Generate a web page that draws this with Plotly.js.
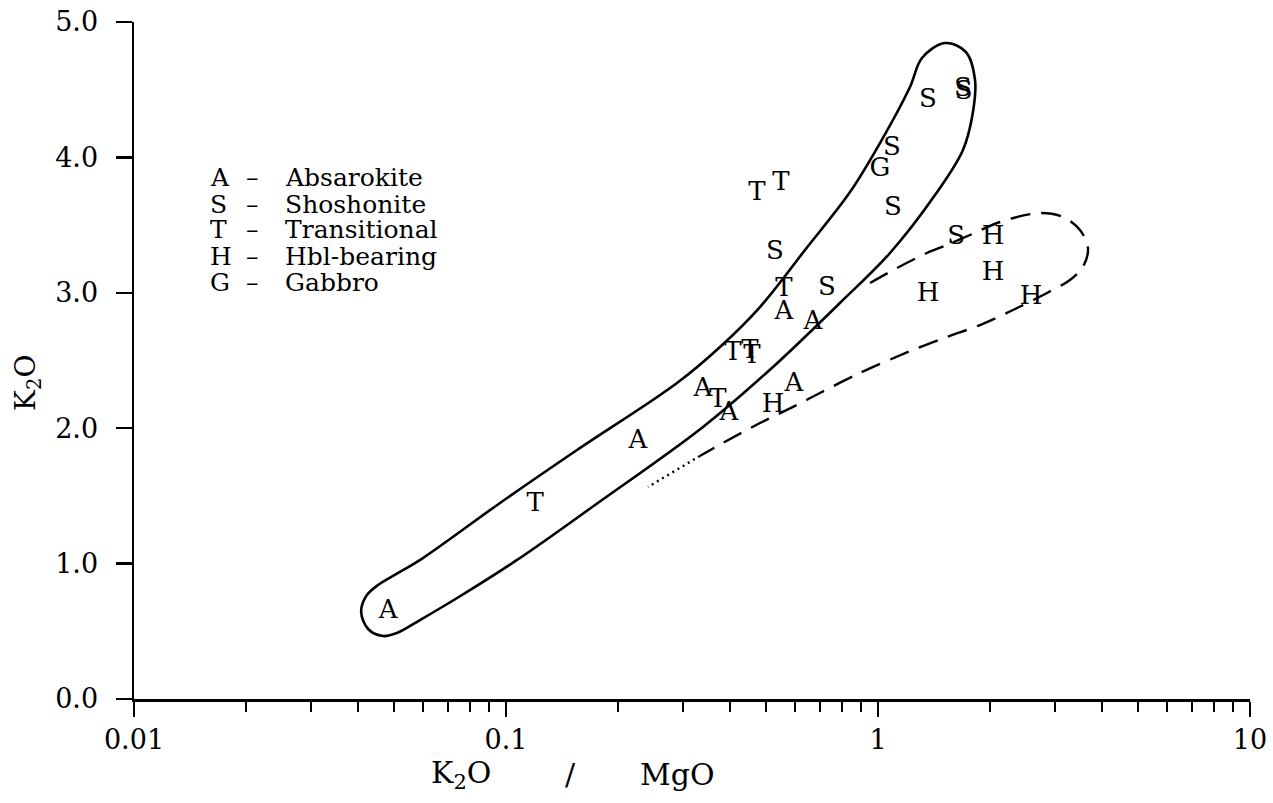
<!DOCTYPE html>
<html>
<head>
<meta charset="utf-8">
<script src="https://cdn.plot.ly/plotly-3.0.1.min.js"></script>
<style>html,body{margin:0;padding:0;background:#fff;}#chart{width:1273px;height:803px;}</style>
</head>
<body>
<div id="chart"></div>
<script>
// ---- data ----
const groupLetters = ['A', 'S', 'T', 'H', 'G'];
const groupNames = ['Absarokite', 'Shoshonite', 'Transitional', 'Hbl-bearing', 'Gabbro'];

const absarokiteX = [0.0482, 0.2264, 0.3385, 0.3976, 0.5944, 0.5588, 0.6688];
const absarokiteY = [0.643, 1.905, 2.289, 2.105, 2.326, 2.858, 2.784];

const shoshoniteX = [0.5285, 0.7291, 1.097, 1.090, 1.363, 1.692, 1.700, 1.621];
const shoshoniteY = [3.294, 3.035, 3.626, 4.069, 4.417, 4.498, 4.483, 3.405];

const transitionalX = [0.1197, 0.3714, 0.4075, 0.4528, 0.4585, 0.5588, 0.4727, 0.5484];
const transitionalY = [1.433, 2.201, 2.555, 2.563, 2.526, 3.028, 3.737, 3.804];

const hblX = [0.522, 1.363, 2.038, 2.038, 2.578];
const hblY = [2.164, 2.984, 3.405, 3.146, 2.969];

const gabbroX = [1.0125];
const gabbroY = [3.907];

// solid field boundary (closed)
const solidX = [0.0964, 0.1552, 0.2882, 0.3761, 0.4817, 0.6365, 0.841, 1.0125, 1.219, 1.313, 1.514, 1.724, 1.823, 1.800, 1.692, 1.423, 1.077, 0.790, 0.522, 0.3385, 0.1735, 0.1071, 0.0739, 0.0587, 0.0509, 0.0467, 0.0426, 0.0408, 0.0421, 0.0453, 0.0513, 0.0598, 0.0964];
const solidY = [1.448, 1.839, 2.334, 2.600, 2.895, 3.316, 3.744, 4.106, 4.520, 4.734, 4.845, 4.778, 4.572, 4.335, 4.055, 3.722, 3.294, 2.925, 2.452, 2.009, 1.433, 1.027, 0.746, 0.583, 0.487, 0.465, 0.517, 0.643, 0.761, 0.842, 0.931, 1.041, 1.448];

// dashed field boundary
const dashX = [0.952, 1.125, 1.354, 1.533, 1.767, 2.128, 2.726, 3.143, 3.491, 3.668, 3.556, 3.282, 2.846, 2.306, 1.880, 1.533, 1.242, 0.894, 0.698, 0.591, 0.4817, 0.383, 0.332];
const dashY = [3.072, 3.183, 3.294, 3.353, 3.427, 3.523, 3.589, 3.560, 3.464, 3.331, 3.191, 3.095, 2.999, 2.873, 2.762, 2.674, 2.578, 2.408, 2.260, 2.157, 2.038, 1.891, 1.795];

// dotted tail
const dotX = [0.332, 0.2408];
const dotY = [1.795, 1.566];

const xTickVals = [0.01, 0.1, 1, 10];
const xTickText = ['0.01', '0.1', '1', '10'];
const yTickVals = [0, 1, 2, 3, 4, 5];
const xTitleParts = ['K<sub>2</sub>O', '/', 'MgO'];
const yTitle = 'K<sub>2</sub>O';

// ---- build ----
const groupsX = [absarokiteX, shoshoniteX, transitionalX, hblX, gabbroX];
const groupsY = [absarokiteY, shoshoniteY, transitionalY, hblY, gabbroY];

const serif = 'DejaVu Serif, Liberation Serif, serif';

const traces = [];
traces.push({x: solidX, y: solidY, mode: 'lines', line: {color: '#000', width: 2.6, shape: 'spline', smoothing: 1}, hoverinfo: 'skip'});
traces.push({x: dashX, y: dashY, mode: 'lines', line: {color: '#000', width: 2.4, shape: 'spline', smoothing: 0.9, dash: '20px,11px'}, hoverinfo: 'skip'});
traces.push({x: dotX, y: dotY, mode: 'lines', line: {color: '#000', width: 2.4, dash: '2px,4px'}, hoverinfo: 'skip'});

groupLetters.forEach((L, i) => {
  traces.push({
    x: groupsX[i], y: groupsY[i], mode: 'text',
    text: groupsX[i].map(() => L),
    textposition: 'middle center',
    textfont: {family: serif, size: 26, color: '#000'},
    name: groupNames[i], hoverinfo: 'skip'
  });
});

const annotations = [];
const rowsY = [0.7696, 0.7297, 0.6928, 0.6529, 0.6145];
groupLetters.forEach((L, i) => {
  annotations.push({xref: 'paper', yref: 'paper', x: 0.0663, y: rowsY[i], xanchor: 'left', yanchor: 'middle', showarrow: false, text: L, font: {family: serif, size: 25, color: '#000'}});
  annotations.push({xref: 'paper', yref: 'paper', x: 0.1066, y: rowsY[i], xanchor: 'center', yanchor: 'middle', showarrow: false, text: '\u2013', font: {family: serif, size: 25, color: '#000'}});
  annotations.push({xref: 'paper', yref: 'paper', x: 0.1335, y: rowsY[i], xanchor: 'left', yanchor: 'middle', showarrow: false, text: groupNames[i], font: {family: serif, size: 25, color: '#000'}});
});
const xTitleX = [0.293, 0.3907, 0.4866];
xTitleParts.forEach((t, i) => {
  annotations.push({xref: 'paper', yref: 'paper', x: xTitleX[i], y: -0.112, xanchor: 'center', yanchor: 'middle', showarrow: false,
    text: t, font: {family: serif, size: 30, color: '#000'}});
});
annotations.push({xref: 'paper', yref: 'paper', x: -0.095, y: 0.4668, xanchor: 'center', yanchor: 'middle', showarrow: false, textangle: -90,
  text: yTitle, font: {family: serif, size: 28, color: '#000'}});

const layout = {
  width: 1273, height: 803,
  margin: {l: 134, r: 23, t: 22, b: 104},
  paper_bgcolor: '#fff', plot_bgcolor: '#fff',
  showlegend: false,
  xaxis: {
    type: 'log', range: [-2, 1], showgrid: false, zeroline: false,
    showline: true, linecolor: '#000', linewidth: 2.5,
    tickvals: xTickVals, ticktext: xTickText,
    ticks: 'outside', ticklen: 15, tickwidth: 2.2, tickcolor: '#000',
    ticklabelstandoff: 0,
    tickfont: {family: serif, size: 27, color: '#000'},
    minor: {ticks: 'outside', ticklen: 10, tickwidth: 2, tickcolor: '#000', dtick: 'D1', showgrid: false}
  },
  yaxis: {
    range: [0, 5], showgrid: false, zeroline: false,
    showline: true, linecolor: '#000', linewidth: 2.5,
    tickvals: yTickVals, tickformat: '.1f',
    ticks: 'outside', ticklen: 16, tickwidth: 2.2, tickcolor: '#000',
    ticklabelstandoff: 12,
    tickfont: {family: serif, size: 27, color: '#000'}
  },
  annotations: annotations
};

Plotly.newPlot('chart', traces, layout, {displayModeBar: false, staticPlot: true});
</script>
</body>
</html>
